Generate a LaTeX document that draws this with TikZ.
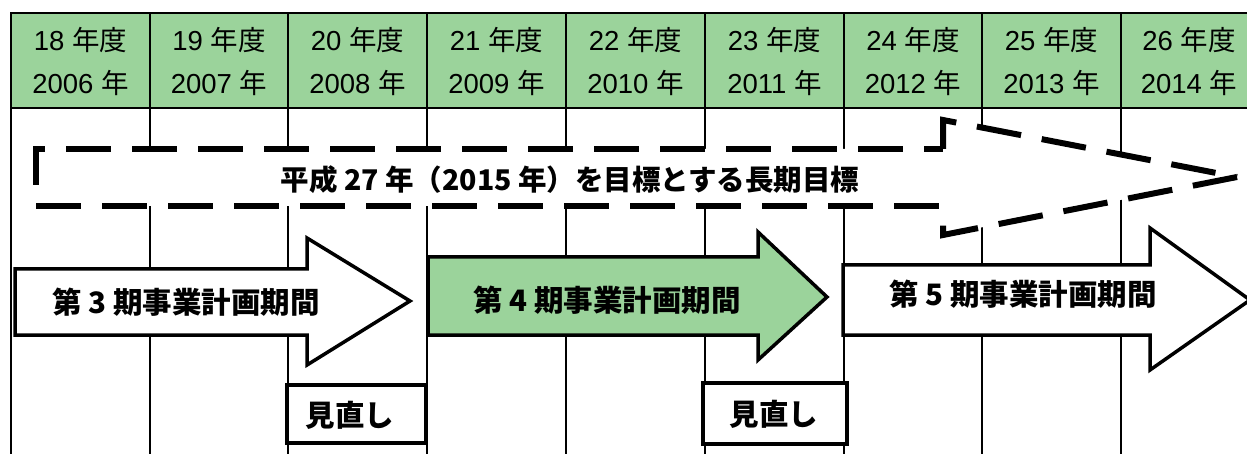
\documentclass[tikz,border=0pt]{standalone}
\usepackage{fontspec}
\setmainfont{Noto Sans CJK JP}
\newfontfamily\lib{Liberation Sans}
\definecolor{hgreen}{RGB}{155,211,155}
\begin{document}
\begin{tikzpicture}[x=1pt,y=-1pt,
  hdr/.style={font=\fontsize{27.5}{30}\selectfont, inner sep=0pt},
  lbl/.style={font=\fontsize{29.5}{32}\selectfont\bfseries, inner sep=0pt},
  ttl/.style={font=\fontsize{28.5}{32}\selectfont\bfseries, inner sep=0pt},
  blk/.style={draw=black, line width=3.5pt, line join=miter},
  dsh/.style={draw=black, line width=6pt, dash pattern=on 45pt off 21pt, line join=miter},
  cell/.style={line width=1.5pt},
  hline/.style={line width=2.5pt}
  ]
\useasboundingbox (0,0) rectangle (1247,454);
\fill[white] (0,0) rectangle (1247,454);
% header band
\fill[hgreen] (11,13) rectangle (1260,108);
% body column lines
\foreach \x in {150,288,427,566,705,844,982,1121}
  \draw[cell] (\x,108) -- (\x,460);
\draw[line width=2pt] (11,13) -- (11,460);
\foreach \x in {150,288,427,566,705,844,982,1121}
  \draw[hline] (\x,13) -- (\x,108);
\draw[hline] (10,13) -- (1260,13);
\draw[line width=2pt] (10,108) -- (1260,108);
% header texts
\foreach \i/\x/\a/\b in {1/80.5/18/2006, 2/219/19/2007, 3/357.5/20/2008, 4/496.5/21/2009, 5/635.5/22/2010, 6/774.5/23/2011, 7/913/24/2012, 8/1051.5/25/2013, 9/1189/26/2014}{
  \node[hdr] (fy\i) at (\x,40) {{\lib \a\ }年度};
  \node[hdr] (cy\i) at (\x,83) {{\lib \b\ }年};
}
% long-term dashed arrow
\coordinate (tip) at (1237,177);
\fill[white] (36,149) -- (943,149) -- (943,120) -- (tip) -- (943,235) -- (943,206) -- (36,206) -- cycle;
\draw[dsh] (36,185) -- (36,149) -- (943,149);
\draw[dsh, dash phase=2.5pt] (943,149) -- (943,120) -- (tip);
\draw[dsh] (tip) -- (943,235) -- (943,206);
\draw[dsh] (36,206) -- (943,206);
\node[ttl] (goal) at (570,180) {平成 27 年（2015 年）を目標とする長期目標};
% period arrows
\filldraw[blk, fill=white] (15,269) -- (307,269) -- (307,238) -- (410,301) -- (307,365) -- (307,335) -- (15,335) -- cycle;
\node[lbl] (p3) at (186,302) {第 3 期事業計画期間};
\filldraw[blk, fill=hgreen] (428,257) -- (758,257) -- (758,232) -- (827,297) -- (758,360) -- (758,335) -- (428,335) -- cycle;
\node[lbl] (p4) at (607,300) {第 4 期事業計画期間};
\filldraw[blk, fill=white] (843,265) -- (1150,265) -- (1150,228) -- (1250,300) -- (1150,370) -- (1150,335) -- (843,335) -- cycle;
\node[lbl] (p5) at (1023,294) {第 5 期事業計画期間};
% review boxes
\filldraw[blk, fill=white] (287,385) rectangle (426,443);
\node[lbl] (r1) at (350,415) {見直し};
\filldraw[blk, fill=white] (703,383) rectangle (847,444);
\node[lbl] (r2) at (774,414) {見直し};
\end{tikzpicture}
\end{document}
